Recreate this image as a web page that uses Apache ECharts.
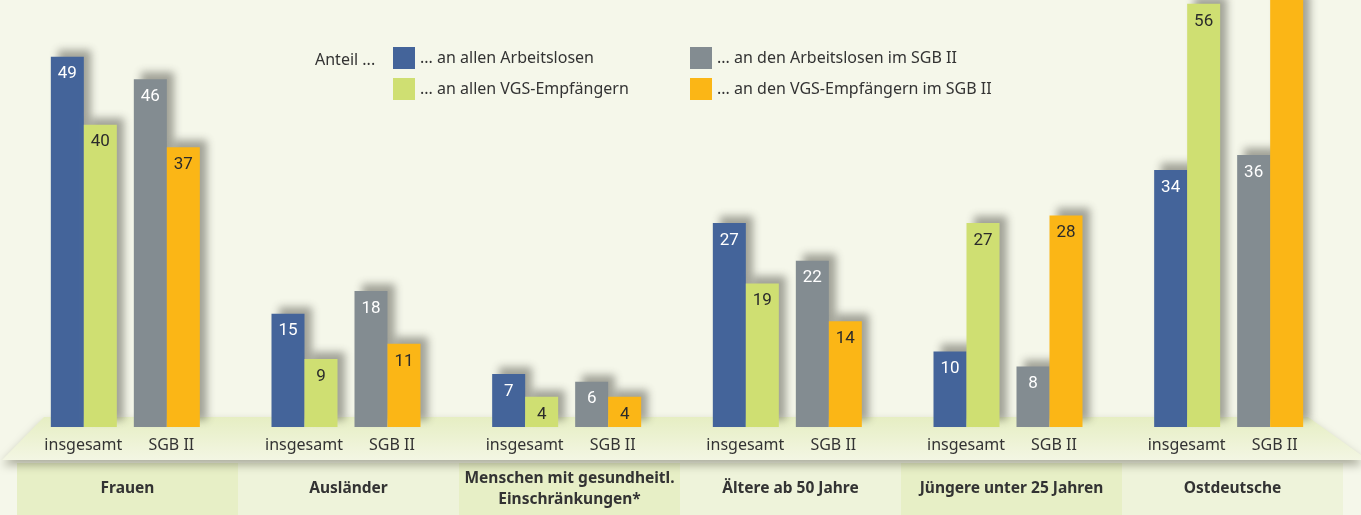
<!DOCTYPE html>
<html>
<head>
<meta charset="utf-8">
<script src="https://cdn.jsdelivr.net/npm/echarts@6/dist/echarts.min.js"></script>
<style>
html,body{margin:0;padding:0;background:#f5f7ea;}
#c{width:1361px;height:515px;}
</style>
</head>
<body>
<div id="c"></div>
<script>
const groups = ['Frauen', 'Ausländer', 'Menschen mit gesundheitl.\nEinschränkungen*', 'Ältere ab 50 Jahre', 'Jüngere unter 25 Jahren', 'Ostdeutsche'];
const subLabels = ['insgesamt', 'SGB II'];
const legendNames = ['... an allen Arbeitslosen', '... an allen VGS-Empfängern', '... an den Arbeitslosen im SGB II', '... an den VGS-Empfängern im SGB II'];
const alleArbeitslose = [49, 15, 7, 27, 10, 34];
const alleVGS = [40, 9, 4, 19, 27, 56];
const sgbArbeitslose = [46, 18, 6, 22, 8, 36];
const sgbVGS = [37, 11, 4, 14, 28, 62];

const Y_MAX = 56.5;
const colors = ['#44649a', '#cfdf72', '#838c91', '#fbb616'];
const labelColors = ['#ffffff', '#2b2b2b', '#ffffff', '#2b2b2b'];
const FONT = 'Noto Sans';

function barSeries(name, data, idx) {
  return {
    type: 'bar', name: name, data: data, xAxisIndex: 0, yAxisIndex: 0,
    barWidth: 33, barGap: '0%', clip: true,
    itemStyle: { color: colors[idx], shadowColor: 'rgba(60,60,50,0.45)', shadowBlur: 8, shadowOffsetX: 7, shadowOffsetY: -7 },
    label: {
      show: true, position: 'insideTop', distance: 9, color: labelColors[idx], fontSize: 17, fontFamily: 'Roboto',
      formatter: function (p) { return p.value > Y_MAX ? '' : String(p.value); }
    },
    emphasis: { disabled: true }
  };
}

function legendBlock(left, names) {
  return {
    left: left, top: 47, orient: 'vertical', padding: 0, itemGap: 9, itemWidth: 22, itemHeight: 22,
    icon: 'rect', data: names, selectedMode: false,
    textStyle: { fontSize: 16, color: '#333', fontFamily: FONT }
  };
}

const chart = echarts.init(document.getElementById('c'), null, { renderer: 'canvas' });
chart.setOption({
  backgroundColor: '#f5f7ea',
  animation: false,
  textStyle: { fontFamily: FONT },
  title: { text: 'Anteil ...', left: 310, top: 47, textStyle: { fontSize: 16, fontWeight: 'normal', color: '#333', fontFamily: FONT } },
  legend: [
    legendBlock(393, [legendNames[0], legendNames[1]]),
    legendBlock(690, [legendNames[2], legendNames[3]])
  ],
  grid: [
    { left: 15, width: 1324, top: 0, height: 427 },
    { left: 17, width: 1326, top: 463, height: 52 }
  ],
  xAxis: [
    {
      type: 'category', gridIndex: 0, data: groups, z: 5,
      axisLine: { show: false }, axisTick: { show: false },
      axisLabel: {
        margin: 10, interval: 0,
        formatter: function () { return '{a|' + subLabels[0] + '}{b|' + subLabels[1] + '}'; },
        rich: {
          a: { width: 88, align: 'center', fontSize: 16, color: '#333', fontFamily: FONT, padding: [0, 4, 0, 0] },
          b: { width: 80, align: 'center', fontSize: 16, color: '#333', fontFamily: FONT }
        }
      }
    },
    {
      type: 'category', gridIndex: 1, data: groups, position: 'bottom',
      axisLine: { show: false }, axisTick: { show: false, interval: 0 },
      splitArea: { show: true, interval: 0, areaStyle: { color: ['#e7efc6', '#eef3da'] } },
      axisLabel: { interval: 0, margin: -26, verticalAlign: 'middle', fontSize: 15.5, fontWeight: 'bold', color: '#333', lineHeight: 21, fontFamily: FONT }
    }
  ],
  yAxis: [
    { type: 'value', gridIndex: 0, min: 0, max: Y_MAX, show: false, splitLine: { show: false } },
    { type: 'value', gridIndex: 1, show: false, splitLine: { show: false } }
  ],
  graphic: [
    {
      type: 'polygon', z: 1,
      shape: { points: [[2, 460], [44, 417], [1308, 417], [1361, 455], [1361, 460]] },
      style: {
        fill: new echarts.graphic.LinearGradient(0, 0, 0, 1, [
          { offset: 0, color: '#e6eec3' }, { offset: 1, color: '#f3f6e3' }
        ]),
        shadowColor: 'rgba(80,80,60,0.45)', shadowBlur: 10, shadowOffsetY: 5
      }
    }
  ],
  series: [
    barSeries(legendNames[0], alleArbeitslose, 0),
    barSeries(legendNames[1], alleVGS, 1),
    { type: 'bar', name: 'spacer', data: groups.map(() => null), barWidth: 17, barGap: '0%', xAxisIndex: 0, yAxisIndex: 0, silent: true },
    barSeries(legendNames[2], sgbArbeitslose, 2),
    barSeries(legendNames[3], sgbVGS, 3)
  ]
});
</script>
</body>
</html>
